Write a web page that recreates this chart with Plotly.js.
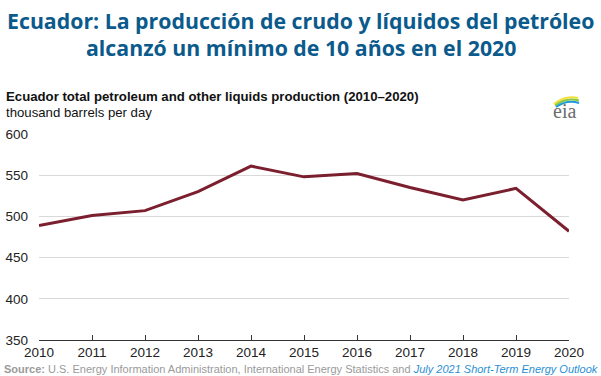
<!DOCTYPE html>
<html>
<head>
<meta charset="utf-8">
<script src="https://cdn.plot.ly/plotly-3.0.1.min.js"></script>
<style>html,body{margin:0;padding:0;background:#fff;}#chart{width:601px;height:376px;}</style>
</head>
<body>
<div id="chart"></div>
<script>
const years = [2010, 2011, 2012, 2013, 2014, 2015, 2016, 2017, 2018, 2019, 2020];
const production = [489, 501, 507, 530, 561, 548, 552, 535, 520, 534, 482];
const yTicks = [350, 400, 450, 500, 550, 600];
const titleLine1 = "Ecuador: La producción de crudo y líquidos del petróleo";
const titleLine2 = "alcanzó un mínimo de 10 años en el 2020";
const subtitleText = "Ecuador total petroleum and other liquids production (2010–2020)";
const unitText = "thousand barrels per day";
const sourceText = "<b>Source:</b> U.S. Energy Information Administration, International Energy Statistics and <i><span style='color:#2a8fd4'>July 2021 Short-Term Energy Outlook</span></i>";

const L = 39, R = 32, T = 134, B = 36, W = 601, H = 376;
const pw = W - L - R, ph = H - T - B;
const px = x => (x - L) / pw;
const py = y => (H - B - y) / ph;

const trace = {
  x: years, y: production, type: 'scatter', mode: 'lines',
  line: {color: '#7b1f2f', width: 3}, hoverinfo: 'skip'
};

const arc = (x0, y0, cx, cy, x1, y1) => `M ${px(x0)} ${py(y0)} Q ${px(cx)} ${py(cy)} ${px(x1)} ${py(y1)}`;
const titleFont = {family: 'Open Sans, sans-serif', size: 21.3, color: '#0b5a8c', weight: 700};

const layout = {
  width: W, height: H,
  margin: {l: L, r: R, t: T, b: B, pad: 0},
  paper_bgcolor: '#fff', plot_bgcolor: '#fff',
  showlegend: false,
  font: {family: 'Liberation Sans, Arial, sans-serif', color: '#222'},
  xaxis: {
    range: [2010, 2020], tickvals: years, ticktext: years.map(String),
    showgrid: false, zeroline: false,
    showline: true, linecolor: '#333', linewidth: 1,
    ticks: 'inside', ticklen: 5, tickcolor: '#333', tickwidth: 1,
    tickfont: {size: 13.5, color: '#222'}, fixedrange: true
  },
  yaxis: {
    range: [350, 600], tickvals: yTicks,
    showgrid: true, gridcolor: '#d9d9d9', gridwidth: 1,
    zeroline: false, showline: false, ticks: '',
    tickfont: {size: 13.5, color: '#222'}, ticklabelstandoff: 10, fixedrange: true
  },
  annotations: [
    {xref: 'paper', yref: 'paper', x: px(300.5), y: py(20), xanchor: 'center', yanchor: 'middle',
     text: '<b>' + titleLine1 + '</b>', showarrow: false, font: titleFont},
    {xref: 'paper', yref: 'paper', x: px(300.5), y: py(47), xanchor: 'center', yanchor: 'middle',
     text: '<b>' + titleLine2 + '</b>', showarrow: false, font: titleFont},
    {xref: 'paper', yref: 'paper', x: px(4), y: py(96), xanchor: 'left', yanchor: 'middle',
     text: '<b>' + subtitleText + '</b>', showarrow: false, font: {size: 13.2, color: '#111'}},
    {xref: 'paper', yref: 'paper', x: px(4), y: py(112), xanchor: 'left', yanchor: 'middle',
     text: unitText, showarrow: false, font: {size: 13.2, color: '#111'}},
    {xref: 'paper', yref: 'paper', x: px(2), y: py(369), xanchor: 'left', yanchor: 'middle',
     text: sourceText, showarrow: false, font: {size: 11, color: '#9a9a9a'}},
    {xref: 'paper', yref: 'paper', x: px(564), y: py(111), xanchor: 'center', yanchor: 'middle',
     text: 'eia', showarrow: false, font: {family: 'Liberation Serif, DejaVu Serif, serif', size: 20, color: '#6d6d6d'}}
  ],
  shapes: [
    {type: 'path', xref: 'paper', yref: 'paper', path: arc(554, 104, 565, 95, 578, 98), line: {color: '#f2e13a', width: 2}},
    {type: 'path', xref: 'paper', yref: 'paper', path: arc(555, 105.5, 566, 97, 579, 100.5), line: {color: '#8cc63f', width: 2}},
    {type: 'path', xref: 'paper', yref: 'paper', path: arc(556, 107, 567, 99, 579, 103), line: {color: '#1e9ad6', width: 2}}
  ]
};

Plotly.newPlot('chart', [trace], layout, {displayModeBar: false, staticPlot: true});
</script>
</body>
</html>
